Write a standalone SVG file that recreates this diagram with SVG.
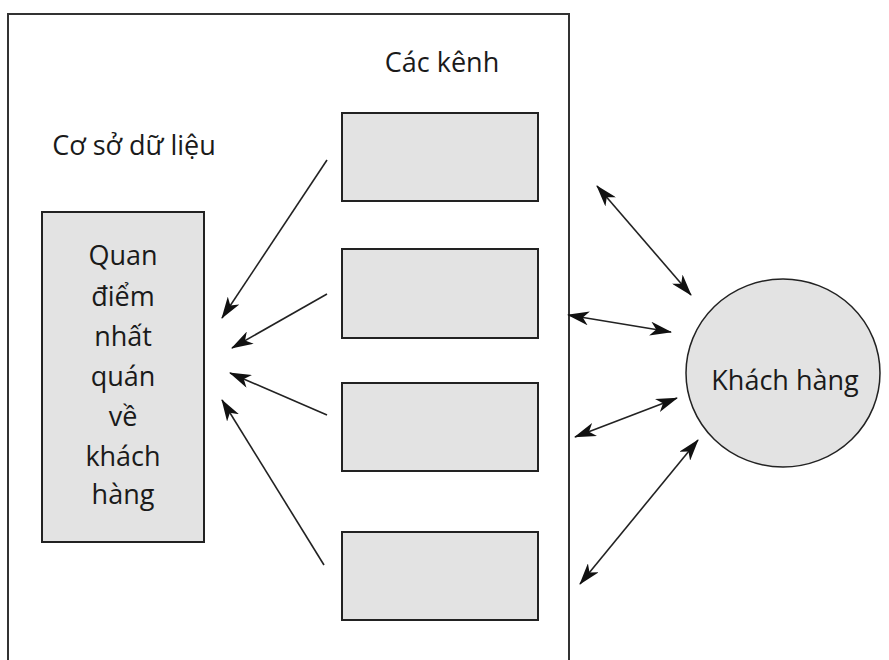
<svg xmlns="http://www.w3.org/2000/svg" width="889" height="660" viewBox="0 0 889 660">
<style>
.txt{font-family:"Open Sans","Noto Sans","DejaVu Sans",sans-serif;font-size:27px;fill:#1a1a1a;text-anchor:middle}
.box{fill:#e3e3e3;stroke:#222;stroke-width:2}
.frame{fill:none;stroke:#333;stroke-width:2}
.conn{fill:none;stroke:#222;stroke-width:1.6}
</style>
<defs>
<marker id="ah" viewBox="0 0 22 14" refX="21" refY="7" markerWidth="22" markerHeight="14" markerUnits="userSpaceOnUse" orient="auto-start-reverse">
<path d="M0,0 L22,7 L0,14 L6,7 z" fill="#111"/>
</marker>
</defs>
<rect width="889" height="660" fill="#fff"/>
<rect class="frame" x="8" y="14" width="561" height="700"/>
<g id="label-channels"><text class="txt" x="442" y="72">Các kênh</text></g>
<g id="label-db"><text class="txt" x="134" y="155">Cơ sở dữ liệu</text></g>
<g id="view">
<rect class="box" x="42" y="212" width="162" height="330"/>
<text class="txt" x="123" y="265">Quan</text>
<text class="txt" x="123" y="306">điểm</text>
<text class="txt" x="123" y="346">nhất</text>
<text class="txt" x="123" y="386">quán</text>
<text class="txt" x="123" y="426">về</text>
<text class="txt" x="123" y="466">khách</text>
<text class="txt" x="123" y="504">hàng</text>
</g>
<g id="ch1"><rect class="box" x="342" y="113" width="196" height="88"/></g>
<g id="ch2"><rect class="box" x="342" y="249" width="196" height="89"/></g>
<g id="ch3"><rect class="box" x="342" y="383" width="196" height="88"/></g>
<g id="ch4"><rect class="box" x="342" y="532" width="196" height="88"/></g>
<g id="customer">
<ellipse class="box" cx="783" cy="373" rx="97" ry="94" style="stroke-width:1.5"/>
<text class="txt" x="785" y="390">Khách hàng</text>
</g>
<g id="connectors">
<line class="conn" x1="327" y1="160" x2="222" y2="318" marker-end="url(#ah)"/>
<line class="conn" x1="327" y1="294" x2="232" y2="348" marker-end="url(#ah)"/>
<line class="conn" x1="327" y1="415" x2="230" y2="373" marker-end="url(#ah)"/>
<line class="conn" x1="324" y1="565" x2="222" y2="400" marker-end="url(#ah)"/>
<line class="conn" x1="597" y1="186" x2="691" y2="295" marker-start="url(#ah)" marker-end="url(#ah)"/>
<line class="conn" x1="568" y1="315" x2="671" y2="332" marker-start="url(#ah)" marker-end="url(#ah)"/>
<line class="conn" x1="575" y1="437" x2="677" y2="398" marker-start="url(#ah)" marker-end="url(#ah)"/>
<line class="conn" x1="580" y1="584" x2="698" y2="440" marker-start="url(#ah)" marker-end="url(#ah)"/>
</g>
</svg>
